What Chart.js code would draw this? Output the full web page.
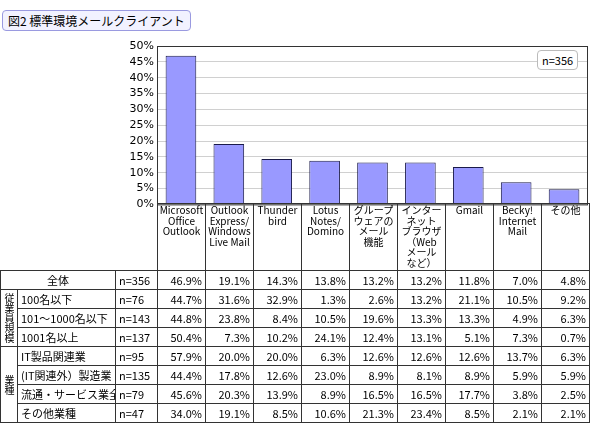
<!DOCTYPE html>
<html><head><meta charset="utf-8">
<script src="https://cdn.jsdelivr.net/npm/chart.js@4"></script>
<style>
body{margin:0;background:#fff;font-family:"Noto Sans CJK JP",sans-serif;}
#wrap{position:relative;width:590px;height:433px;}
#title{position:absolute;left:2px;top:10px;padding:1px 5px;font-size:12px;line-height:17px;border:1.5px solid #9a9ae0;border-radius:4px;background:#f2f2ff;}
#nbox{position:absolute;left:537px;top:50px;padding:1px 4px;font-size:11px;line-height:16px;border:1.5px solid #bbb;border-radius:4px;background:#fff;}
#chart{position:absolute;left:0;top:0;}
table{position:absolute;left:0;top:203px;border-collapse:collapse;table-layout:fixed;width:589px;font-size:11px;line-height:13px;}
td{border:1px solid #333;padding:0 3px;height:18px;white-space:nowrap;overflow:hidden;}
td.v{text-align:right;}
td.h{vertical-align:top;text-align:center;font-size:10px;line-height:10.5px;height:64px;padding:1px 0;white-space:normal;}
td.e{border:none;height:64px;}
td.g{writing-mode:vertical-rl;text-align:center;padding:0;font-size:10px;line-height:14px;}
</style></head><body>
<div id="wrap">
<canvas id="chart" width="590" height="214"></canvas>
<div id="title">図2 標準環境メールクライアント</div>
<div id="nbox">n=356</div>
<table id="tbl"></table>
</div>
<script>
const categories = [
  ["Microsoft","Office","Outlook"],
  ["Outlook","Express/","Windows","Live Mail"],
  ["Thunder","bird"],
  ["Lotus","Notes/","Domino"],
  ["グループ","ウェアの","メール","機能"],
  ["インター","ネット","ブラウザ","（Web","メール","など）"],
  ["Gmail"],
  ["Becky!","Internet","Mail"],
  ["その他"]
];
const overall = [46.9, 19.1, 14.3, 13.8, 13.2, 13.2, 11.8, 7.0, 4.8];
const rowGroups = ["従業員規模", "業種"];
const rowLabels = ["100名以下","101～1000名以下","1001名以上","IT製品関連業","(IT関連外）製造業","流通・サービス業全般","その他業種"];
const rowN = [76, 143, 137, 95, 135, 79, 47];
const rowValues = [
  [44.7, 31.6, 32.9, 1.3, 2.6, 13.2, 21.1, 10.5, 9.2],
  [44.8, 23.8, 8.4, 10.5, 19.6, 13.3, 13.3, 4.9, 6.3],
  [50.4, 7.3, 10.2, 24.1, 12.4, 13.1, 5.1, 7.3, 0.7],
  [57.9, 20.0, 20.0, 6.3, 12.6, 12.6, 12.6, 13.7, 6.3],
  [44.4, 17.8, 12.6, 23.0, 8.9, 8.1, 8.9, 5.9, 5.9],
  [45.6, 20.3, 13.9, 8.9, 16.5, 16.5, 17.7, 3.8, 2.5],
  [34.0, 19.1, 8.5, 10.6, 21.3, 23.4, 8.5, 2.1, 2.1]
];
const totalN = 356;

new Chart(document.getElementById('chart'), {
  type: 'bar',
  data: {
    labels: categories,
    datasets: [{
      data: overall,
      backgroundColor: '#9999ff',
      borderColor: '#1a1a4a',
      borderWidth: 1,
      categoryPercentage: 0.64,
      barPercentage: 1
    }]
  },
  options: {
    responsive: false,
    animation: false,
    layout: { padding: { left: 0, right: 2, top: 46, bottom: 0 } },
    plugins: { legend: { display: false }, tooltip: { enabled: false } },
    scales: {
      x: { display: false },
      y: {
        min: 0, max: 50,
        afterFit: s => { s.width = 157; },
        ticks: { stepSize: 5, callback: v => v + '%', color: '#000', font: { size: 11, family: 'DejaVu Sans' }, padding: 3 },
        grid: { color: '#d0d0d0', drawTicks: false },
        border: { color: '#333' }
      }
    }
  },
  plugins: [{
    id: 'frame',
    afterDraw(c) {
      const a = c.chartArea, x = c.ctx;
      x.save(); x.strokeStyle = '#333'; x.lineWidth = 1;
      x.strokeRect(a.left + 0.5, a.top + 0.5, a.right - a.left - 1, a.bottom - a.top);
      x.restore();
    }
  }]
});

// table
const t = document.getElementById('tbl');
const fmt = v => v.toFixed(1) + '%';
let h = '<colgroup><col style="width:17px"><col style="width:98px"><col style="width:42px">';
categories.forEach(() => { h += '<col style="width:48px">'; });
h += '</colgroup><tr><td class="e"></td><td class="e"></td><td class="e"></td>';
categories.forEach(c => { h += '<td class="h">' + c.join('<br>') + '</td>'; });
h += '</tr><tr><td colspan="2" style="text-align:center">全体</td><td>n=' + totalN + '</td>';
overall.forEach(v => { h += '<td class="v">' + fmt(v) + '</td>'; });
h += '</tr>';
rowLabels.forEach((l, i) => {
  h += '<tr>';
  if (i === 0) h += '<td class="g" rowspan="3">' + rowGroups[0] + '</td>';
  if (i === 3) h += '<td class="g" rowspan="4">' + rowGroups[1] + '</td>';
  h += '<td>' + l + '</td><td>n=' + rowN[i] + '</td>';
  rowValues[i].forEach(v => { h += '<td class="v">' + fmt(v) + '</td>'; });
  h += '</tr>';
});
t.innerHTML = h;
</script>
</body></html>
